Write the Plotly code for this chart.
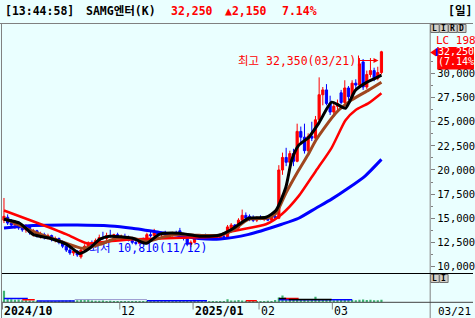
import plotly.graph_objects as go

W, H = 475, 318
BG = "#EAFFFF"
MONO = "DejaVu Sans Mono, Noto Sans CJK KR, monospace"
RED = "#FF0000"
BLUE = "#0000FF"
GRAY = "#808080"

# ---------------- data (daily candles, 2024/10 .. 2025/03/21) ----------------
opens = [14800, 15100, 14500, 14300, 14600, 14000, 13800, 14100, 13500, 13700,
         13200, 13300, 13000, 13200, 12800, 12900, 12500, 12100, 11700, 11400,
         11600, 11000, 11700, 12100, 12400, 12200, 12700, 13000, 12900, 13200,
         13100, 13300, 13000, 13100, 12900, 12700, 12500, 12400, 12700, 12600,
         13300, 13200, 13500, 13300, 13400, 13300, 13200, 13500, 13700, 13200,
         12900, 12300, 12500, 13100, 13000, 13200, 13100, 13000, 13100, 12900,
         13100, 13000, 13900, 14300, 14000, 14800, 15300, 15200, 14900, 14800,
         15000, 14900, 15000, 14800, 15200, 15000, 20000, 21300, 20800, 21700,
         20900, 24000, 23400, 22000, 23500, 23300, 25200, 27800, 28300, 26900,
         26000, 26600, 28000, 27000, 28500, 27600, 29000, 28800, 31200, 28600,
         29900, 30300, 29500, 30100]
highs = [17100, 15400, 14900, 14800, 14700, 14300, 14400, 14200, 13900, 13800,
         13600, 13500, 13400, 13300, 13100, 13000, 12700, 12300, 12000, 11800,
         11700, 11900, 12300, 12600, 12700, 12900, 13300, 13600, 13500, 13800,
         13400, 13500, 13300, 13400, 13200, 13000, 12800, 12900, 13000, 13500,
         13700, 13900, 13700, 13600, 13700, 13500, 13600, 13700, 14000, 13400,
         13100, 12700, 13200, 13300, 13300, 13400, 13300, 13200, 13300, 13200,
         13300, 14300, 14500, 14400, 15000, 15900, 15600, 15400, 15300, 15200,
         15300, 15200, 15300, 15400, 15500, 20500, 21800, 22300, 22000, 22200,
         24800, 24500, 24800, 23800, 25000, 25600, 29600, 28600, 28900, 27700,
         27000, 27300, 28300, 29300, 28700, 29300, 29400, 31600, 31500, 30300,
         31600, 30600, 30700, 32350]
lows = [14500, 14300, 14000, 13900, 13800, 13600, 13500, 13300, 13100, 13000,
        12900, 12800, 12800, 12600, 12500, 12300, 11900, 11500, 11200, 11100,
        11000, 10810, 11500, 11900, 12000, 12100, 12500, 12800, 12700, 13000,
        12900, 12900, 12800, 12800, 12600, 12300, 12200, 12300, 12500, 12500,
        13000, 13000, 13100, 13100, 13200, 13000, 13100, 13200, 13100, 12700,
        12100, 12000, 12400, 12900, 12900, 13000, 12900, 12800, 12900, 12800,
        12900, 12900, 13700, 13800, 13900, 14600, 14800, 14700, 14600, 14600,
        14800, 14700, 14700, 14700, 14900, 14900, 19500, 20400, 20500, 20400,
        20800, 22900, 21700, 21800, 23000, 23100, 25000, 26700, 26700, 25700,
        25500, 26200, 26800, 26700, 27200, 27400, 28300, 28700, 28300, 28400,
        29600, 29200, 29300, 29900]
closes = [15200, 14500, 14300, 14600, 14000, 13800, 14100, 13500, 13700, 13200,
          13300, 13000, 13200, 12800, 12900, 12500, 12100, 11700, 11400, 11600,
          11200, 11700, 12100, 12400, 12200, 12700, 13000, 12900, 13200, 13100,
          13300, 13000, 13100, 12900, 12700, 12500, 12400, 12700, 12600, 13300,
          13200, 13500, 13300, 13400, 13300, 13200, 13500, 13300, 13200, 12900,
          12300, 12500, 13100, 13000, 13200, 13100, 13000, 13100, 12900, 13100,
          13000, 14100, 14300, 14000, 14800, 15300, 15000, 14900, 14800, 15000,
          14900, 15000, 14800, 15200, 15000, 20000, 21300, 20800, 21700, 20900,
          24000, 23400, 22000, 23500, 23300, 25200, 27800, 28300, 26900, 26000,
          26600, 26900, 27000, 28500, 27600, 29000, 28800, 31000, 28600, 29900,
          30300, 29500, 30100, 32250]
volumes = [1150, 400, 300, 260, 280, 200, 210, 180, 160, 170,
           150, 140, 160, 140, 130, 150, 170, 190, 210, 180,
           200, 260, 220, 300, 170, 160, 150, 180, 140, 150,
           130, 120, 130, 120, 130, 140, 130, 120, 130, 160,
           140, 170, 130, 120, 110, 120, 130, 120, 150, 130,
           160, 140, 120, 110, 120, 110, 100, 110, 120, 110,
           130, 300, 170, 190, 230, 180, 150, 130, 140, 120,
           130, 120, 150, 140, 230, 480, 680, 330, 280, 250,
           320, 230, 250, 210, 220, 560, 320, 290, 270, 230,
           210, 220, 300, 260, 220, 240, 210, 260, 280, 230,
           240, 210, 200, 260]

# volume moving-average segments (start index, end index, value)
vol_ma_blue = [(0, 6.5, 370), (9, 19.3, 140), (39, 55.4, 150), (75, 95, 250)]
vol_ma_gray = [(19.3, 39, 270)]
vol_ma_red = [(5, 8.4, 260), (66, 69, 160), (76.4, 80.4, 370)]
vol_ma_black = [(75, 77, 380), (77.7, 89.4, 280)]

# moving averages (index, price)
ma_black_idx = [0, 4.3, 7.9, 12.5, 17.1, 20.7, 23.4, 26.1, 28.8, 35.1, 38.9, 42.4, 47.8, 53.3,
                58.7, 62.2, 66.8, 71.5, 74.2, 76.9, 78.5, 80.4, 83.2, 85.9, 89.4, 91.3,
                93.2, 95.9, 98.6, 101.4, 103]
ma_black_val = [14900, 14480, 13330, 12920, 12290, 11350, 11880, 12810, 13130, 12920, 12400,
                13330, 13440, 13130, 13230, 13860, 15000, 15100, 15800, 18200, 21000,
                22550, 23400, 24850, 27030, 26720, 26400, 28270, 29000, 29520, 29830]
ma_brown_idx = [0, 7.9, 17.1, 21.5, 26.1, 30.7, 35.1, 38.9, 44.3, 47.8, 53.3, 58.7, 62.2,
                66.8, 71.5, 74.2, 76.9, 80.4, 83.2, 85.1, 90.5, 94.8, 99.5, 103]
ma_brown_val = [15000, 13650, 12400, 11880, 12290, 12920, 12920, 12600, 13130, 13330, 13230,
                13230, 13700, 14900, 15000, 15500, 17580, 19970, 21740, 23090, 25890,
                27240, 28280, 29100]
ma_red_idx = [0, 7.9, 17.1, 22.6, 28.8, 35.1, 44.3, 53.3, 58.7, 62.2, 71.5, 75.8, 80.4,
              85.1, 89.4, 93.2, 95.9, 99.5, 103]
ma_red_val = [15800, 14690, 13330, 12400, 12600, 12810, 12920, 13020, 13130, 13650, 14380,
              15420, 17290, 19900, 22300, 25160, 26200, 26930, 27960]
ma_blue_idx = [0, 8, 20, 29, 35, 44, 53, 59, 66.8, 75.8, 80.4, 85.1, 89.4, 94, 98.6, 103]
ma_blue_val = [14000, 14250, 14300, 14200, 13960, 13440, 12900, 12850, 13330, 14380, 15000,
               16040, 16980, 18130, 19400, 21100]

price_ticks = [10000, 12500, 15000, 17500, 20000, 22500, 25000, 27500, 30000]
price_tick_text = ["10,000", "12,500", "15,000", "17,500", "20,000",
                   "22,500", "25,000", "27,500", "30,000"]
month_tick_idx = [0, 32, 52, 70, 90]
month_tick_text = ["<b>2024/10</b>", "12", "<b>2025/01</b>", "02", "03"]

# ---------------- helpers ----------------
def px(x):
    return x / W


def py(y):
    return 1 - y / H


n = len(closes)
idx = list(range(n))
i_low = lows.index(min(lows))
i_high = highs.index(max(highs))

fig = go.Figure()

# lowest-price label (drawn beneath the candles)
fig.add_trace(go.Scatter(
    x=[i_low + 2.3], y=[min(lows) + 1000], mode="text",
    text=["최저 10,810(11/12)"], textposition="middle right",
    textfont=dict(color=BLUE, size=11.5, family=MONO),
    hoverinfo="skip", showlegend=False, cliponaxis=False))

fig.add_trace(go.Candlestick(
    x=idx, open=opens, high=highs, low=lows, close=closes,
    increasing=dict(line=dict(color=RED, width=1), fillcolor=RED),
    decreasing=dict(line=dict(color=BLUE, width=1), fillcolor=BLUE),
    whiskerwidth=0, hoverinfo="skip", showlegend=False))

for xs, ys, col, wd in [(ma_blue_idx, ma_blue_val, "#0000FF", 3),
                        (ma_red_idx, ma_red_val, "#FF0000", 2.5),
                        (ma_brown_idx, ma_brown_val, "#A0461E", 3),
                        (ma_black_idx, ma_black_val, "#000000", 3)]:
    fig.add_trace(go.Scatter(x=xs, y=ys, mode="lines",
                             line=dict(color=col, width=wd, shape="spline", smoothing=0.6),
                             hoverinfo="skip", showlegend=False))

fig.add_trace(go.Bar(x=idx, y=volumes, yaxis="y2", marker=dict(color="#3CB371", line=dict(width=0)),
                     width=0.6, hoverinfo="skip", showlegend=False))


def seg_trace(segs, color, width):
    xs, ys = [], []
    for a, b, v in segs:
        xs += [a, b, None]
        ys += [v, v, None]
    return go.Scatter(x=xs, y=ys, yaxis="y2", mode="lines", line=dict(color=color, width=width),
                      hoverinfo="skip", showlegend=False)


fig.add_trace(seg_trace(vol_ma_gray, "#9A9AD0", 1))
fig.add_trace(seg_trace(vol_ma_blue, "#0000FF", 1.5))
fig.add_trace(seg_trace(vol_ma_red, "#FF0000", 1.5))
fig.add_trace(seg_trace(vol_ma_black, "#000000", 1.5))

shapes = []
# frame lines
shapes.append(dict(type="line", xref="paper", yref="paper", x0=0, x1=1, y0=py(23.5), y1=py(23.5),
                   line=dict(color=GRAY, width=1)))
shapes.append(dict(type="line", xref="paper", yref="paper", x0=px(1.5), x1=px(1.5), y0=0, y1=py(23.5),
                   line=dict(color=GRAY, width=1)))
shapes.append(dict(type="line", xref="paper", yref="paper", x0=px(432), x1=px(432), y0=0, y1=py(23.5),
                   line=dict(color=GRAY, width=1)))
shapes.append(dict(type="line", xref="paper", yref="paper", x0=px(2), x1=1, y0=py(273.5), y1=py(273.5),
                   line=dict(color="#000000", width=1)))
shapes.append(dict(type="line", xref="paper", yref="paper", x0=px(2), x1=1, y0=py(302.3), y1=py(302.3),
                   line=dict(color="#404040", width=1)))
# month tick lines
for t in month_tick_idx:
    shapes.append(dict(type="line", xref="x", yref="paper", x0=t - 0.4, x1=t - 0.4,
                       y0=py(302.5), y1=py(309.5), line=dict(color=GRAY, width=1)))
# current price marker
shapes.append(dict(type="path", xref="paper", yref="paper",
                   path=f"M {px(432)} {py(52.5)} L {px(438)} {py(48.5)} L {px(438)} {py(56.5)} Z",
                   fillcolor=RED, line=dict(width=0)))
shapes.append(dict(type="rect", xref="paper", yref="paper", x0=px(439), x1=px(476),
                   y0=py(69.5), y1=py(47), fillcolor=RED, line=dict(width=0)))
shapes.append(dict(type="rect", xref="paper", yref="paper", x0=px(437.7), x1=px(439.5),
                   y0=py(56), y1=py(48.3), fillcolor=BLUE, line=dict(width=0)))
# max label arrow helper
shapes.append(dict(type="line", xref="paper", yref="paper", x0=px(360), x1=px(360),
                   y0=py(55.5), y1=py(66), line=dict(color=RED, width=1)))
# buttons
for (x0, y0, y1) in [(432.5, 24.5, 32.5), (441.5, 24.5, 32.5), (450.5, 24.5, 32.5),
                     (459.5, 24.5, 32.5), (432.5, 274.5, 282.5), (441.5, 274.5, 282.5)]:
    shapes.append(dict(type="rect", xref="paper", yref="paper", x0=px(x0), x1=px(x0 + 8.5),
                       y0=py(y1), y1=py(y0), fillcolor="#D4D0C8", line=dict(color="#707070", width=1)))

ann = []


def txt(x, y, s, color="#000000", size=11.5, bold=False, anchor="left"):
    if bold:
        s = f"<b>{s}</b>"
    ann.append(dict(xref="paper", yref="paper", x=px(x), y=py(y), text=s, showarrow=False,
                    xanchor=anchor, yanchor="middle", borderpad=0, borderwidth=0,
                    font=dict(color=color, size=size, family=MONO)))


# title bar
txt(5, 11, "[13:44:58]", bold=True)
txt(86, 11, "SAMG엔터(K)", bold=True)
txt(172, 11, "32,250", RED, bold=True)
txt(226, 11, "▲2,150", RED, bold=True)
txt(283, 11, "7.14%", RED, bold=True)
txt(450, 11, "[일]", bold=True)

# right side labels
txt(437.5, 40.5, "LC 198", RED, size=11)
txt(439.5, 51.5, "32,250", "#FFFFFF", size=10)
txt(439.5, 62, "(7.14%", "#FFFFFF", size=10)
for k, ch in enumerate("LIRD"):
    txt(432.5 + 9 * k + 4.25, 28.5, ch, size=8, bold=True, anchor="center")
for k, ch in enumerate("LI"):
    txt(432.5 + 9 * k + 4.25, 278.5, ch, size=8, bold=True, anchor="center")

# date axis labels
for t, s in zip(month_tick_idx, month_tick_text):
    ann.append(dict(xref="x", yref="paper", x=t, y=py(311), text=s, showarrow=False,
                    xanchor="left", yanchor="middle", borderpad=0, borderwidth=0,
                    font=dict(color="#000000", size=11.5, family=MONO)))
txt(440, 311, "03/21", size=11)

# highest-price label
txt(358, 60.5, "최고 32,350(03/21)", RED, size=11.5, anchor="right")
ann.append(dict(xref="x", yref="paper", x=i_high - 0.8, y=py(60.5), ax=-20, ay=0,
                text="", showarrow=True, arrowhead=2, arrowsize=1, arrowwidth=1,
                arrowcolor=RED))

fig.update_layout(
    width=W, height=H, margin=dict(l=0, r=0, t=0, b=0),
    paper_bgcolor=BG, plot_bgcolor=BG,
    showlegend=False, boxgap=0.15,
    xaxis=dict(domain=[px(2), px(432)], range=[-0.54, 116.3], visible=False,
               rangeslider=dict(visible=False), fixedrange=True),
    yaxis=dict(domain=[py(273.5), py(24)], range=[9273, 35130], side="right",
               tickvals=price_ticks, ticktext=price_tick_text, ticks="outside", ticklen=4,
               tickcolor=GRAY, showgrid=False, zeroline=False, showline=False,
               tickfont=dict(size=10.5, family=MONO, color="#000000"),
               minor=dict(tickvals=[v + 1250 for v in price_ticks], ticks="outside",
                          ticklen=2, tickcolor=GRAY, showgrid=False)),
    yaxis2=dict(domain=[py(302.3), py(274)], range=[0, 2800], visible=False, anchor="x"),
    shapes=shapes, annotations=ann,
)

fig.write_html("out.html")
